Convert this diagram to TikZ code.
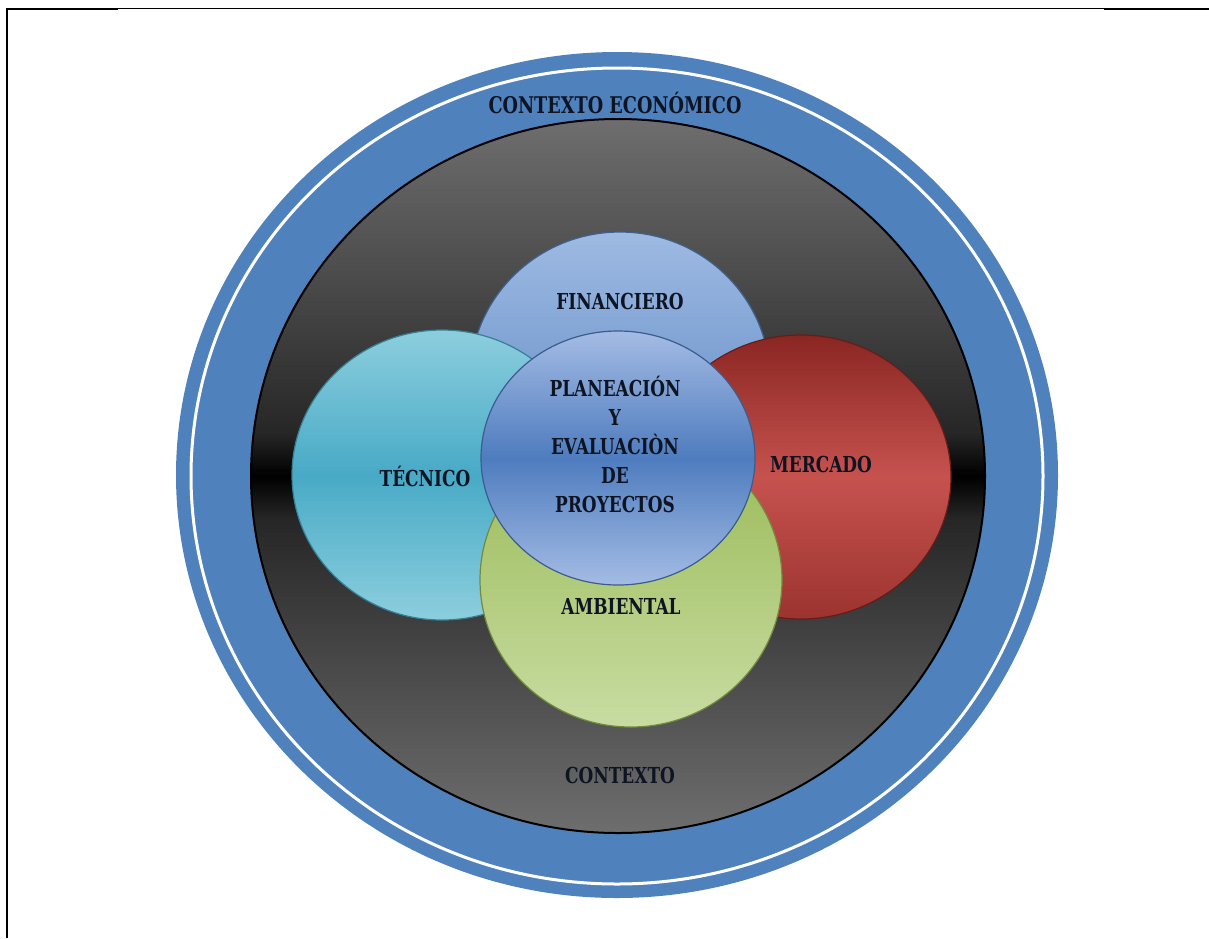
\documentclass[tikz,border=0pt]{standalone}
\usepackage{fontspec}
\newfontfamily\diagfont[FakeStretch=0.77]{DejaVu Serif}
\definecolor{ringblue}{RGB}{79,129,189}
\definecolor{greytop}{RGB}{110,110,110}
\definecolor{greymid}{RGB}{72,72,72}
\definecolor{finlight}{RGB}{158,186,226}
\definecolor{finblue}{RGB}{82,128,192}
\definecolor{teclight}{RGB}{140,206,222}
\definecolor{tecblue}{RGB}{72,170,198}
\definecolor{merdark}{RGB}{138,38,34}
\definecolor{merred}{RGB}{198,82,78}
\definecolor{ambgreen}{RGB}{152,185,84}
\definecolor{amblight}{RGB}{200,220,162}
\definecolor{planlight}{RGB}{164,188,228}
\definecolor{planblue}{RGB}{78,124,190}
\definecolor{textdark}{RGB}{15,20,35}
\pgfdeclareverticalshading{contextshade}{100bp}{color(0bp)=(greytop); color(25bp)=(greytop);
    color(37bp)=(greymid); color(47bp)=(black!85); color(50bp)=(black); color(53bp)=(black!85);
    color(63bp)=(greymid); color(75bp)=(greytop); color(100bp)=(greytop)}
\newcommand{\rdisc}{150}
\tikzset{
    disc/.style={draw=#1!75!black, line width=0.6pt},
    tag/.style={font=\diagfont\bfseries\fontsize{11}{14.5}\selectfont, text=textdark, align=center, inner sep=0pt},
    bigtag/.style={tag, font=\diagfont\bfseries\fontsize{11.5}{14}\selectfont},
    frame/.style={black, line width=1pt}
}

\begin{document}
\begin{tikzpicture}[x=0.5pt, y=-0.5pt]
    \useasboundingbox (0,0) rectangle (1209,938);

    % page frame
    \draw[frame] (7,938) -- (7,9) -- (118,9);
    \draw[black, line width=0.5pt] (118,8) -- (1104,8);
    \draw[frame] (1104,9) -- (1209,9);

    % contexto
    \fill[ringblue] (617,475) ellipse [x radius=441, y radius=423];
    \draw[white, line width=1.5pt] (617,476) ellipse [x radius=426, y radius=408];
    \path[shading=contextshade, draw=black, line width=1pt]
        (618,476) ellipse [x radius=367, y radius=357];

    % areas
    \path[disc=finblue, top color=finlight, bottom color=finblue] (620,380) ellipse [x radius=\rdisc, y radius=148];
    \path[disc=tecblue, top color=teclight, bottom color=teclight, middle color=tecblue] (442,475) ellipse [x radius=\rdisc, y radius=145];
    \path[disc=merdark, top color=merdark, bottom color=merdark!70!merred, middle color=merred] (801,477) ellipse [x radius=\rdisc, y radius=142];
    \path[disc=ambgreen, top color=ambgreen, bottom color=amblight] (631,580) ellipse [x radius=151, y radius=147];
    \path[disc=planblue, top color=planlight, bottom color=planlight, middle color=planblue] (618,458) ellipse [x radius=137, y radius=127];

    \node[bigtag] (economico) at (615,103) {CONTEXTO ECONÓMICO};
    \node[tag] (contexto) at (620,775) {CONTEXTO};
    \node[tag] (financiero) at (620,301) {FINANCIERO};
    \node[tag] (tecnico) at (425,476) {TÉCNICO};
    \node[tag] (mercado) at (821,464) {MERCADO};
    \node[tag] (ambiental) at (621,606) {AMBIENTAL};
    \node[tag] (planeacion) at (615,444) {PLANEACIÓN\\Y\\EVALUACIÒN\\DE\\PROYECTOS};
\end{tikzpicture}
\end{document}
